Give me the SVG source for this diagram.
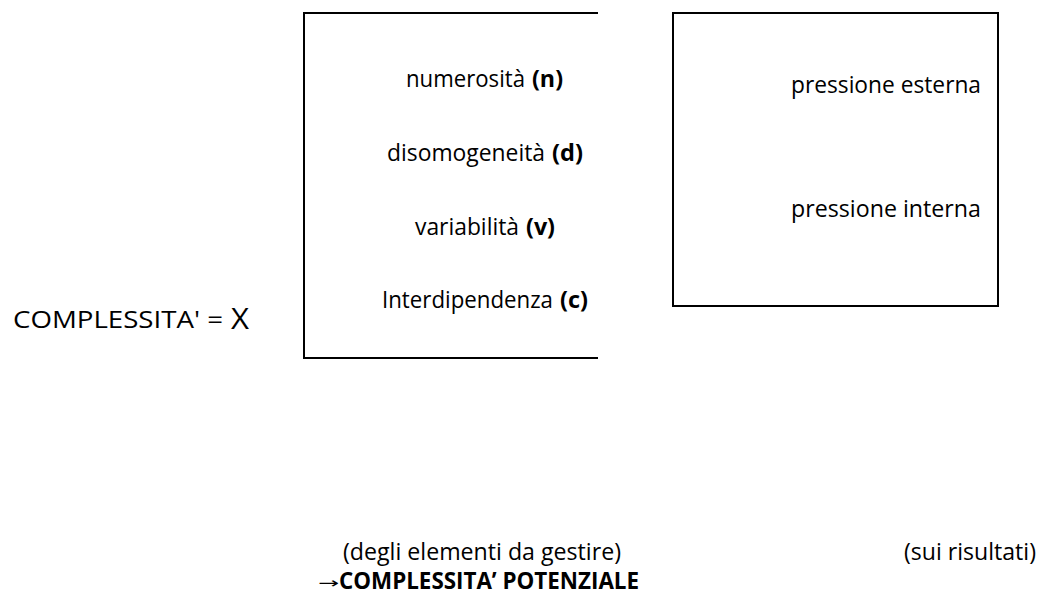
<svg xmlns="http://www.w3.org/2000/svg" width="1042" height="599" viewBox="0 0 1042 599">
  <style>
    .t { font-family: "Open Sans", "Noto Sans", "Liberation Sans", sans-serif; font-size: 24px; fill: #000; }
    .b { font-weight: bold; }
    .frame { fill: none; stroke: #000; stroke-width: 2; }
  </style>
  <rect width="1042" height="599" fill="#fff"/>

  <!-- formula lead-in -->
  <g id="formula">
    <text class="t" x="13" y="328" textLength="210" lengthAdjust="spacingAndGlyphs">COMPLESSITA' =</text>
    <text class="t" x="231" y="329" style="font-size:30px" textLength="18" lengthAdjust="spacingAndGlyphs">X</text>
  </g>

  <!-- factors box (open on the right); each factor: name + bold symbol -->
  <g id="factors">
    <path class="frame" d="M598 13 H304 V358 H598"/>
    <text class="t" x="406" y="87" textLength="119" lengthAdjust="spacingAndGlyphs">numerosità</text>
    <text class="t b" x="532" y="87" textLength="31" lengthAdjust="spacingAndGlyphs">(n)</text>
    <text class="t" x="387" y="161" textLength="158" lengthAdjust="spacingAndGlyphs">disomogeneità</text>
    <text class="t b" x="552" y="161" textLength="31" lengthAdjust="spacingAndGlyphs">(d)</text>
    <text class="t" x="415" y="235" textLength="104" lengthAdjust="spacingAndGlyphs">variabilità</text>
    <text class="t b" x="526" y="235" textLength="29" lengthAdjust="spacingAndGlyphs">(v)</text>
    <text class="t" x="382" y="308" textLength="171" lengthAdjust="spacingAndGlyphs">Interdipendenza</text>
    <text class="t b" x="560" y="308" textLength="28" lengthAdjust="spacingAndGlyphs">(c)</text>
  </g>

  <!-- pressure box -->
  <g id="pressure">
    <rect class="frame" x="673" y="13" width="325" height="293"/>
    <text class="t" x="886" y="93" text-anchor="middle" textLength="190" lengthAdjust="spacingAndGlyphs">pressione esterna</text>
    <text class="t" x="886" y="217" text-anchor="middle" textLength="190" lengthAdjust="spacingAndGlyphs">pressione interna</text>
  </g>

  <!-- captions -->
  <g id="captions">
    <text class="t" x="343" y="560" textLength="278" lengthAdjust="spacingAndGlyphs">(degli elementi da gestire)</text>
    <text class="t" x="904" y="560" textLength="132" lengthAdjust="spacingAndGlyphs">(sui risultati)</text>
    <text x="318" y="588" style="font-family:'DejaVu Sans', sans-serif; font-size:15px; fill:#000" textLength="21" lengthAdjust="spacingAndGlyphs">→</text>
    <text class="t b" x="339" y="589" textLength="300" lengthAdjust="spacingAndGlyphs">COMPLESSITA’ POTENZIALE</text>
  </g>

  <!-- no connectors in this figure -->
  <g id="connectors"/>
</svg>
